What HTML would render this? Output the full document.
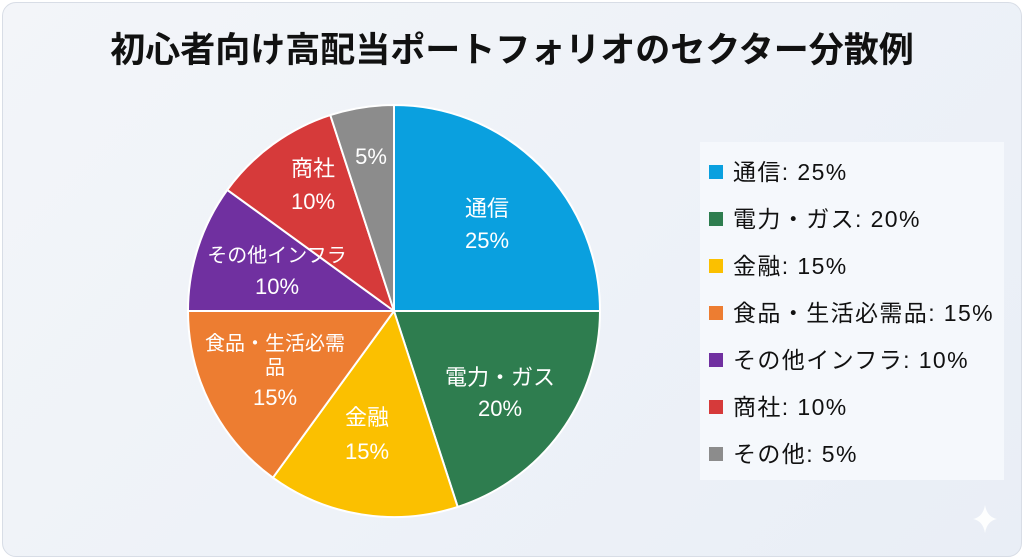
<!DOCTYPE html>
<html><head><meta charset="utf-8"><style>
html,body{margin:0;padding:0;}
body{width:1024px;height:559px;overflow:hidden;background:#fff;font-family:"Liberation Sans","Noto Sans CJK JP",sans-serif;}
.card{position:absolute;left:2px;top:2px;width:1018px;height:553px;border-radius:14px;border:1px solid #d8dde6;background:linear-gradient(135deg,#f3f5f9 0%,#eef2f8 50%,#e9eef6 100%);}
</style></head><body>
<div class="card"></div>
<svg width="1024" height="559" style="position:absolute;left:0;top:0" font-family="Liberation Sans, Noto Sans CJK JP, sans-serif">
<text x="512" y="62" text-anchor="middle" font-size="35" font-weight="bold" fill="#111">初心者向け高配当ポートフォリオのセクター分散例</text>
<g stroke="#fff" stroke-width="2" stroke-linejoin="round">
<path d="M394 311 L394 105 A206 206 0 0 1 600 311 Z" fill="#0aa0df"/>
<path d="M394 311 L600 311 A206 206 0 0 1 457.7 506.9 Z" fill="#2e7d4f"/>
<path d="M394 311 L457.7 506.9 A206 206 0 0 1 272.9 477.7 Z" fill="#fbc000"/>
<path d="M394 311 L272.9 477.7 A206 206 0 0 1 188 311 Z" fill="#ed7d31"/>
<path d="M394 311 L188 311 A206 206 0 0 1 227.3 189.9 Z" fill="#7030a0"/>
<path d="M394 311 L227.3 189.9 A206 206 0 0 1 330.3 115.1 Z" fill="#d63a3a"/>
<path d="M394 311 L330.3 115.1 A206 206 0 0 1 394 105 Z" fill="#8c8c8c"/>
</g>
<g fill="#fff" text-anchor="middle" font-size="22">
<text x="487" y="216">通信</text><text x="487" y="248">25%</text>
<text x="500" y="385">電力・ガス</text><text x="500" y="416">20%</text>
<text x="367" y="425">金融</text><text x="367" y="459">15%</text>
<text x="275" y="350" font-size="20">食品・生活必需</text><text x="275" y="374" font-size="20">品</text><text x="275" y="405">15%</text>
<text x="277" y="262" font-size="20">その他インフラ</text><text x="277" y="294">10%</text>
<text x="313" y="176">商社</text><text x="313" y="209">10%</text>
<text x="371" y="164">5%</text>
</g>
<rect x="700" y="142" width="304" height="338" fill="#f5f8fc"/>
<g font-size="23" fill="#111" letter-spacing="1.4">
<rect x="709" y="165" width="14" height="14" fill="#0aa0df"/><text x="733" y="180">通信: 25%</text>
<rect x="709" y="212" width="14" height="14" fill="#2e7d4f"/><text x="733" y="227">電力・ガス: 20%</text>
<rect x="709" y="259" width="14" height="14" fill="#fbc000"/><text x="733" y="274">金融: 15%</text>
<rect x="709" y="306" width="14" height="14" fill="#ed7d31"/><text x="733" y="321">食品・生活必需品: 15%</text>
<rect x="709" y="353" width="14" height="14" fill="#7030a0"/><text x="733" y="368">その他インフラ: 10%</text>
<rect x="709" y="400" width="14" height="14" fill="#d63a3a"/><text x="733" y="415">商社: 10%</text>
<rect x="709" y="447" width="14" height="14" fill="#8c8c8c"/><text x="733" y="462">その他: 5%</text>
</g>
<path d="M985 505 Q987 517 997 519 Q987 521 985 533 Q983 521 973 519 Q983 517 985 505 Z" fill="#fff" opacity="0.9"/>
</svg>
</body></html>
